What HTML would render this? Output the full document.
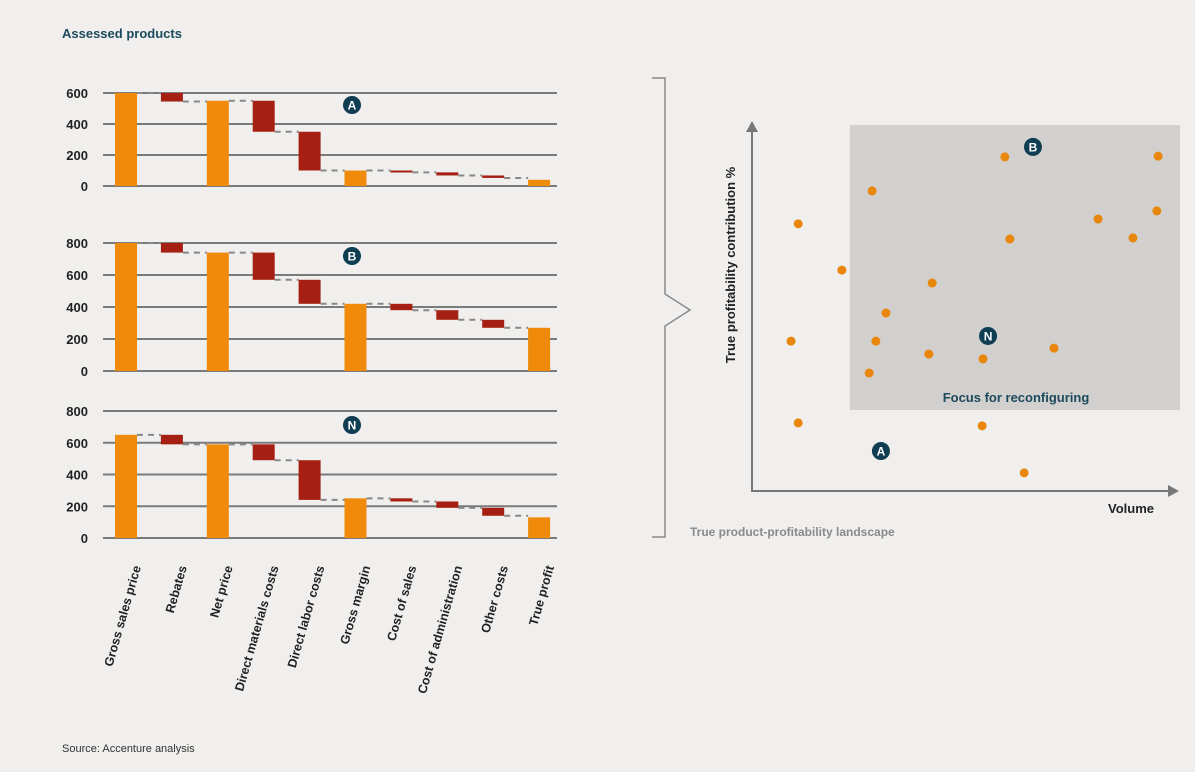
<!DOCTYPE html>
<html><head><meta charset="utf-8"><style>
html,body{margin:0;padding:0;background:#f0efed;}
svg{display:block;font-family:"Liberation Sans",sans-serif;}
</style></head><body>
<svg id="chart" width="1195" height="772" viewBox="0 0 1195 772">
<rect width="1195" height="772" fill="#f0efed"/>
<text x="62" y="38" font-size="13" font-weight="bold" fill="#1d4a5c">Assessed products</text>
<text x="62" y="752" font-size="11" fill="#333">Source: Accenture analysis</text>
<g id="waterfalls"></g>
<g id="catlabels"></g>
<path d="M652,78 L665,78 L665,294 L690,310 L665,326 L665,537 L652,537" fill="none" stroke="#8a8a8a" stroke-width="1.5"/>
<g id="scatter"></g>
</svg>
<script>
var categories = ["Gross sales price","Rebates","Net price","Direct materials  costs","Direct labor costs","Gross margin","Cost of sales","Cost of administration","Other costs","True profit"];
var kinds = ["total","cost","total","cost","cost","total","cost","cost","cost","total"];
var valuesA = [600, 55, 550, 200, 250, 100, 12, 20, 16, 40];
var valuesB = [800, 60, 740, 170, 150, 420, 40, 60, 50, 270];
var valuesN = [650, 60, 590, 100, 250, 250, 20, 40, 50, 130];
var ticksA = [0,200,400,600];
var ticksB = [0,200,400,600,800];
var ticksN = [0,200,400,600,800];
var panelLabels = ["A","B","N"];

var scatterVolume = [60.2,96.7,28.6,11,82.4,96.4,61.4,90.7,21.4,42.9,31.9,9.3,29.5,42.1,55,71.9,27.9,11,54.8,64.8];
var scatterProfit = [90.3,90.5,81.1,72.2,73.5,75.7,68.1,68.4,59.7,56.2,48.1,40.5,40.5,37,35.7,38.6,31.9,18.4,17.6,4.9];
var badgeLabels = ["B","N","A"];
var badgeVolume = [66.9,56.2,30.7];
var badgeProfit = [93,41.9,10.8];
var focusVolume = [23.3,101.9];
var focusProfit = [21.9,98.9];

var NS="http://www.w3.org/2000/svg";
function mk(tag,attrs,parent){var e=document.createElementNS(NS,tag);for(var k in attrs)e.setAttribute(k,attrs[k]);parent.appendChild(e);return e;}
var ORANGE="#ef8a0a", RED="#a52012", GRID="#7a7a7a", BADGE="#0f3d52";
var wf=document.getElementById('waterfalls');
var panels=[
 {vals:valuesA,ticks:ticksA,max:600,top:93,bottom:186,badgeX:352,badgeY:105},
 {vals:valuesB,ticks:ticksB,max:800,top:243,bottom:371,badgeX:352,badgeY:256},
 {vals:valuesN,ticks:ticksN,max:800,top:411,bottom:538,badgeX:352,badgeY:425}
];
function xCenter(i){return 126+i*45.9;}
var BW=22;
panels.forEach(function(p,pi){
  var g=mk('g',{},wf);
  
  
  function y(v){return p.bottom-(v/p.max)*(p.bottom-p.top);}
  p.ticks.forEach(function(t){
    var l=mk('line',{x1:103,x2:557,y1:y(t),y2:y(t),stroke:GRID,'stroke-width':2},g);
    
    
    var tx=mk('text',{x:88,y:y(t)+5,'text-anchor':'end','font-size':13,'font-weight':'bold',fill:'#222'},g);
    tx.textContent=t;
    
    
  });
  var level=0;
  var prevEnd=null;
  p.vals.forEach(function(v,i){
    var cx=xCenter(i), top, bot, end;
    if(kinds[i]=="total"){level=v;top=y(v);bot=y(0);end=v;}
    else{top=y(level);bot=y(level-v);level=level-v;end=level;}
    if(prevEnd!==null){
      var dl=mk('line',{x1:xCenter(i-1)+BW/2,x2:cx-BW/2,y1:y(prevEnd),y2:y(prevEnd),stroke:'#888','stroke-width':2,'stroke-dasharray':'6,5'},g);
      
      
    }
    var r=mk('rect',{x:cx-BW/2,y:top,width:BW,height:Math.max(bot-top,2),fill:kinds[i]=="total"?ORANGE:RED},g);
    
    
    prevEnd=end;
  });
  var bc=mk('circle',{cx:p.badgeX,cy:p.badgeY,r:9,fill:BADGE},g);
  
  
  var bt=mk('text',{x:p.badgeX,y:p.badgeY+4.5,'text-anchor':'middle','font-size':12,'font-weight':'bold',fill:'#fff'},g);
  bt.textContent=panelLabels[pi];
  
  
});
var cl=document.getElementById('catlabels');
categories.forEach(function(c,i){
  var x=xCenter(i)+15, yy=567;
  var t=mk('text',{x:x,y:yy,'text-anchor':'end','font-size':12.5,'font-weight':'bold',fill:'#222',transform:'rotate(-74 '+x+' '+yy+')'},cl);
  t.textContent=c;
  
  
});
var sc=document.getElementById('scatter');
function sx(v){return 752+v*4.2;}
function sy(v){return 491-v*3.7;}
var fr=mk('rect',{x:sx(focusVolume[0]),y:sy(focusProfit[1]),width:sx(focusVolume[1])-sx(focusVolume[0]),height:sy(focusProfit[0])-sy(focusProfit[1]),fill:'#d2d0ce'},sc);


var ft=mk('text',{x:1016,y:402,'text-anchor':'middle','font-size':13,'font-weight':'bold',fill:'#1d4a5c'},sc);
ft.textContent='Focus for reconfiguring';


var ax=mk('path',{d:'M752,130 L752,491 L1170,491',fill:'none',stroke:'#777','stroke-width':2},sc);


var ah1=mk('path',{d:'M746,132 L752,121 L758,132 Z',fill:'#777'},sc);


var ah2=mk('path',{d:'M1168,485 L1179,491 L1168,497 Z',fill:'#777'},sc);


var xt=mk('text',{x:1131,y:513,'text-anchor':'middle','font-size':13,'font-weight':'bold',fill:'#222'},sc);
xt.textContent='Volume';


var yt=mk('text',{x:735,y:265,'text-anchor':'middle','font-size':13,'font-weight':'bold',fill:'#222',transform:'rotate(-90 735 265)'},sc);
yt.textContent='True profitability contribution %';


var st=mk('text',{x:690,y:536,'font-size':12,'font-weight':'bold',fill:'#8a8a8a'},sc);
st.textContent='True product-profitability landscape';


scatterVolume.forEach(function(v,i){
  var d=mk('circle',{cx:sx(v),cy:sy(scatterProfit[i]),r:4.5,fill:'#e8870c'},sc);
  
  
});
badgeLabels.forEach(function(b,i){
  var c=mk('circle',{cx:sx(badgeVolume[i]),cy:sy(badgeProfit[i]),r:9,fill:BADGE},sc);
  
  
  var t=mk('text',{x:sx(badgeVolume[i]),y:sy(badgeProfit[i])+4.5,'text-anchor':'middle','font-size':12,'font-weight':'bold',fill:'#fff'},sc);
  t.textContent=b;
  
  
});
</script>
</body></html>
